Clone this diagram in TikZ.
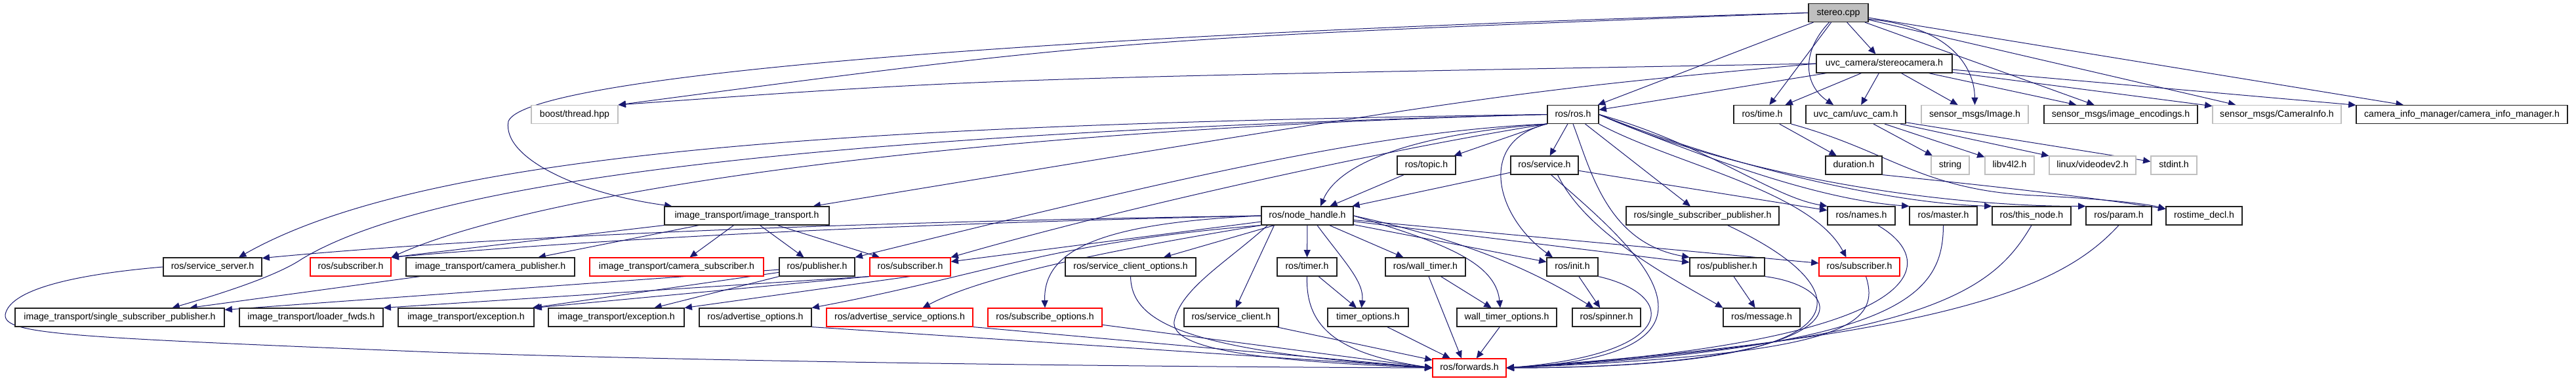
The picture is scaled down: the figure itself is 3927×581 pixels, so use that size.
\documentclass[tikz,border=0pt]{standalone}
\usepackage{fontspec}
\setmainfont{Liberation Sans}
\usetikzlibrary{arrows.meta,calc}
\definecolor{edgec}{HTML}{191970}
\definecolor{grayb}{HTML}{BFBFBF}
\definecolor{redb}{HTML}{FF0000}
\definecolor{rootf}{HTML}{BFBFBF}
\definecolor{boxb}{HTML}{202020}
\pgfdeclarelayer{back}
\pgfdeclarelayer{bg}
\pgfsetlayers{back,bg,main}
\tikzset{
  box/.style={draw=boxb, fill=white, line width=0.85pt, minimum height=21pt, inner sep=0pt,
    text height=8pt, text depth=2.5pt, font=\fontsize{10.6}{12}\selectfont},
  sysbox/.style={box, draw=grayb},
  redbox/.style={box, draw=redb},
  rootbox/.style={box, fill=rootf},
  dep/.style={draw=edgec, line width=0.75pt, -{Triangle[length=8.5pt,width=7.5pt]}}
}
\newcommand\mknode[6]{%
  \pgfmathsetmacro\mkcx{(#3+#4)/2}%
  \pgfmathsetmacro\mkwd{(#4-#3)*0.75}%
  \node[#1, minimum width=\mkwd pt] (#2) at (\mkcx,#5) {#6};}
\begin{document}
\begin{tikzpicture}[x=0.75pt,y=-0.75pt]
\useasboundingbox (0,0) rectangle (3927,581);
\begin{pgfonlayer}{back}
\fill[white] (0,0) rectangle (3927,581);
\end{pgfonlayer}
% row 0,1
\mknode{rootbox}{stereo}{2757}{2848}{19.5}{stereo.cpp}
\mknode{box}{sc}{2769}{2976}{97}{uvc\_camera/stereocamera.h}
% row 2
\mknode{sysbox}{boost}{810}{942}{174.5}{boost/thread.hpp}
\mknode{box}{ros}{2359}{2437}{174.5}{ros/ros.h}
\mknode{box}{time}{2643}{2730}{174.5}{ros/time.h}
\mknode{box}{uvc}{2753}{2905}{174.5}{uvc\_cam/uvc\_cam.h}
\mknode{sysbox}{img}{2929}{3092}{174.5}{sensor\_msgs/Image.h}
\mknode{box}{enc}{3116}{3350}{174.5}{sensor\_msgs/image\_encodings.h}
\mknode{sysbox}{cinfo}{3373}{3569}{174.5}{sensor\_msgs/CameraInfo.h}
\mknode{box}{cim}{3592}{3914}{174.5}{camera\_info\_manager/camera\_info\_manager.h}
% row 3
\mknode{box}{topic}{2130}{2219}{252}{ros/topic.h}
\mknode{box}{service}{2303}{2406}{252}{ros/service.h}
\mknode{box}{dur}{2783}{2869}{252}{duration.h}
\mknode{sysbox}{string}{2944}{3002}{252}{string}
\mknode{sysbox}{v4l}{3026}{3101}{252}{libv4l2.h}
\mknode{sysbox}{vdev}{3124}{3256}{252}{linux/videodev2.h}
\mknode{sysbox}{stdint}{3279}{3349}{252}{stdint.h}
% row 4
\mknode{box}{it}{1013}{1264}{329}{image\_transport/image\_transport.h}
\mknode{box}{nh}{1923}{2063}{329}{ros/node\_handle.h}
\mknode{box}{rssp}{2479}{2712}{329}{ros/single\_subscriber\_publisher.h}
\mknode{box}{names}{2786}{2889}{329}{ros/names.h}
\mknode{box}{master}{2911}{3014}{329}{ros/master.h}
\mknode{box}{thisnode}{3037}{3157}{329}{ros/this\_node.h}
\mknode{box}{param}{3180}{3280}{329}{ros/param.h}
\mknode{box}{rtd}{3302}{3418}{329}{rostime\_decl.h}
% row 5
\mknode{box}{ss}{249}{399}{407}{ros/service\_server.h}
\mknode{redbox}{subA}{473}{596}{407}{ros/subscriber.h}
\mknode{box}{cpub}{619}{876}{407}{image\_transport/camera\_publisher.h}
\mknode{redbox}{csub}{899}{1164}{407}{image\_transport/camera\_subscriber.h}
\mknode{box}{pubA}{1188}{1303}{407}{ros/publisher.h}
\mknode{redbox}{subB}{1326}{1449}{407}{ros/subscriber.h}
\mknode{box}{sco}{1624}{1823}{407}{ros/service\_client\_options.h}
\mknode{box}{timer}{1947}{2038}{407}{ros/timer.h}
\mknode{box}{wtimer}{2112}{2234}{407}{ros/wall\_timer.h}
\mknode{box}{init}{2358}{2436}{407}{ros/init.h}
\mknode{box}{pubB}{2576}{2690}{407}{ros/publisher.h}
\mknode{redbox}{subC}{2773}{2896}{407}{ros/subscriber.h}
% row 6
\mknode{box}{itssp}{23}{342}{484}{image\_transport/single\_subscriber\_publisher.h}
\mknode{box}{lfw}{365}{584}{484}{image\_transport/loader\_fwds.h}
\mknode{box}{excA}{607}{814}{484}{image\_transport/exception.h}
\mknode{box}{excB}{836}{1043}{484}{image\_transport/exception.h}
\mknode{box}{ao}{1066}{1237}{484}{ros/advertise\_options.h}
\mknode{redbox}{aso}{1260}{1483}{484}{ros/advertise\_service\_options.h}
\mknode{redbox}{so}{1506}{1680}{484}{ros/subscribe\_options.h}
\mknode{box}{scl}{1805}{1949}{484}{ros/service\_client.h}
\mknode{box}{topt}{2024}{2147}{484}{timer\_options.h}
\mknode{box}{wtopt}{2221}{2373}{484}{wall\_timer\_options.h}
\mknode{box}{spin}{2397}{2501}{484}{ros/spinner.h}
\mknode{box}{msg}{2627}{2744}{484}{ros/message.h}
% row 7
\mknode{redbox}{fw}{2184}{2296}{561}{ros/forwards.h}

\begin{pgfonlayer}{bg}
% stereo.cpp
\draw[dep] (stereo.west) .. controls (1700,60) .. (boost.north east);
\draw[dep] (stereo.west) .. controls (1500,55) and (800,120) .. (775,185) .. controls (765,240) and (880,295) .. ($(it.north west)+(12,0)$);
\draw[dep] (stereo) -- (ros);
\draw[dep] (stereo) -- (time);
\draw[dep] ($(stereo.south)+(-14,0)$) .. controls (2745,80) and (2750,130) .. ($(uvc.north)+(-34,0)$);
\draw[dep] (stereo) -- (sc);
\draw[dep] (stereo.-12) .. controls (2970,40) and (3010,100) .. (img.north);
\draw[dep] (stereo) -- (enc);
\draw[dep] (stereo) -- (cinfo);
\draw[dep] (stereo) -- (cim);
% stereocamera.h
\draw[dep] (sc.west) .. controls (1500,120) .. (boost.north east);
\draw[dep] ($(sc.south west)+(16,0)$) -- (ros.10);
\draw[dep] (sc) -- (time);
\draw[dep] (sc) -- (uvc);
\draw[dep] (sc) -- (img);
\draw[dep] (sc) -- (enc);
\draw[dep] (sc) -- (cinfo);
\draw[dep] (sc) -- (cim);
\draw[dep] (sc.west) .. controls (2300,140) .. ($(it.north east)+(-25,0)$);
% uvc_cam, time, duration
\draw[dep] (uvc) -- (string);
\draw[dep] (uvc) -- (v4l);
\draw[dep] (uvc) -- (vdev);
\draw[dep] (uvc) -- (stdint);
\draw[dep] (time) -- (dur);
\draw[dep] (time.south east) .. controls (2880,230) and (2930,290) .. (3100,298) .. controls (3200,303) and (3270,310) .. (rtd.170);
\draw[dep] (dur.south east) .. controls (2950,275) and (3150,295) .. (rtd.170);
% ros/ros.h
\draw[dep] (ros) -- (topic);
\draw[dep] (ros) -- (service);
\draw[dep] (ros.south west) .. controls (2150,205) and (2040,250) .. ($(nh.north)+(20,0)$);
\draw[dep] (ros.south west) .. controls (2250,215) and (2280,330) .. ($(init.north)+(-30,0)$);
\draw[dep] (ros) -- (rssp);
\draw[dep] (ros.south) .. controls (2425,260) and (2450,370) .. (pubB.north west);
\draw[dep] (ros.south east) .. controls (2550,250) and (2760,290) .. ($(subC.north)+(-20,0)$);
\draw[dep] (ros.east) .. controls (2600,220) and (2700,300) .. (names.north west);
\draw[dep] (ros.east) .. controls (2620,250) and (2780,305) .. (master.north west);
\draw[dep] (ros.east) .. controls (2640,255) and (2880,310) .. (thisnode.north west);
\draw[dep] (ros.east) .. controls (2640,265) and (2950,315) .. (param.north west);
\draw[dep] (ros.west) .. controls (1300,190) and (650,230) .. ($(ss.north)+(40,0)$);
\draw[dep] (ros.west) .. controls (1200,205) and (650,280) .. (460,395) .. controls (420,422) and (330,450) .. ($(itssp.north)+(80,0)$);
\draw[dep] (ros.west) .. controls (1400,200) and (800,300) .. (subA.north east);
\draw[dep] (ros.south west) .. controls (2100,200) and (1800,270) .. (pubA.north east);
\draw[dep] (ros.south west) .. controls (2100,230) and (1700,320) .. (subB.north east);
% image_transport.h
\draw[dep] (it) -- (cpub);
\draw[dep] (it) -- (csub);
\draw[dep] (it) -- (pubA);
\draw[dep] (it) -- (subB);
\draw[dep] (it.south west) -- (subA.north east);
% topic, service
\draw[dep] (topic) -- (nh);
\draw[dep] (service) -- (nh);
\draw[dep] (service) -- (names);
\draw[dep] ($(service.south)+(10,0)$) .. controls (2470,360) and (2700,540) .. (fw.east);
\draw[dep] ($(service.south)+(20,0)$) .. controls (2420,360) and (2560,430) .. (msg.north west);
% node_handle.h
\draw[dep] (nh.west) .. controls (1200,340) and (700,365) .. (ss.10);
\draw[dep] (nh.west) .. controls (1200,345) and (800,375) .. (subA.north east);
\draw[dep] (nh) -- (subB);
\draw[dep] (nh.south west) .. controls (1600,370) and (1500,420) .. (ao.north east);
\draw[dep] (nh.south west) .. controls (1700,380) and (1500,420) .. ($(aso.north)+(35,0)$);
\draw[dep] (nh.west) .. controls (1680,340) and (1590,380) .. (so.north);
\draw[dep] (nh) -- (sco);
\draw[dep] ($(nh.south west)+(20,0)$) -- (scl);
\draw[dep] (nh) -- (timer);
\draw[dep] ($(nh.south)+(15,0)$) .. controls (2050,400) and (2080,430) .. ($(topt.north)+(-10,0)$);
\draw[dep] (nh) -- (wtimer);
\draw[dep] (nh.east) .. controls (2200,370) and (2280,400) .. ($(wtopt.north)+(-10,0)$);
\draw[dep] (nh) -- (init);
\draw[dep] (nh.east) .. controls (2250,370) and (2350,420) .. ($(spin.north)+(-20,0)$);
\draw[dep] (nh) -- (pubB);
\draw[dep] (nh) -- (subC);
\draw[dep] ($(nh.south west)+(10,0)$) .. controls (1870,400) and (1800,440) .. (1790,490) .. controls (1785,530) and (1900,550) .. (fw.west);
% lower rows
\draw[dep] (timer) -- (topt);
\draw[dep] (timer.south) .. controls (1990,500) and (2040,540) .. (fw.west);
\draw[dep] (wtimer) -- (wtopt);
\draw[dep] ($(wtimer.south)+(5,0)$) -- ($(fw.north)+(-12,0)$);
\draw[dep] (topt) -- (fw);
\draw[dep] (wtopt) -- (fw);
\draw[dep] (init) -- (spin);
\draw[dep] (init.south east) .. controls (2560,450) and (2560,540) .. (fw.east);
\draw[dep] (scl) -- (fw);
\draw[dep] (sco.south) .. controls (1725,490) and (1800,535) .. (fw.west);
\draw[dep] (so) -- (fw.west);
\draw[dep] (aso.south east) -- (fw.west);
\draw[dep] (ao.south east) -- (fw.west);
\draw[dep] (ss.west) .. controls (120,418) and (15,440) .. (8,480) .. controls (6,510) and (100,514) .. (660,537) .. controls (1200,555) and (1900,560) .. (fw.west);
\draw[dep] (pubB) -- (msg);
\draw[dep] (pubB.south east) .. controls (2830,440) and (2850,560) .. (fw.east);
\draw[dep] ($(rssp.south)+(38,0)$) .. controls (2820,430) and (2900,560) .. (fw.east);
\draw[dep] ($(subC.south)+(10,0)$) .. controls (2870,500) and (2800,540) .. (fw.east);
\draw[dep] ($(names.south)+(25,0)$) .. controls (2960,400) and (2950,520) .. (fw.east);
\draw[dep] (master.south) .. controls (2962,450) and (2900,530) .. (fw.east);
\draw[dep] (thisnode.south) .. controls (3040,440) and (2950,520) .. (fw.east);
\draw[dep] (param.south) .. controls (3150,430) and (3000,510) .. (fw.east);
% image_transport children
\draw[dep] (pubA) -- (itssp);
\draw[dep] (pubA) -- (excA);
\draw[dep] (pubA) -- (excB);
\draw[dep] (subB.south west) -- (lfw.north east);
\draw[dep] (subB.south west) -- (excA.north east);
\draw[dep] (subB.south) -- (excB);
\draw[dep] (cpub) -- (itssp);
\end{pgfonlayer}
\end{tikzpicture}
\end{document}
